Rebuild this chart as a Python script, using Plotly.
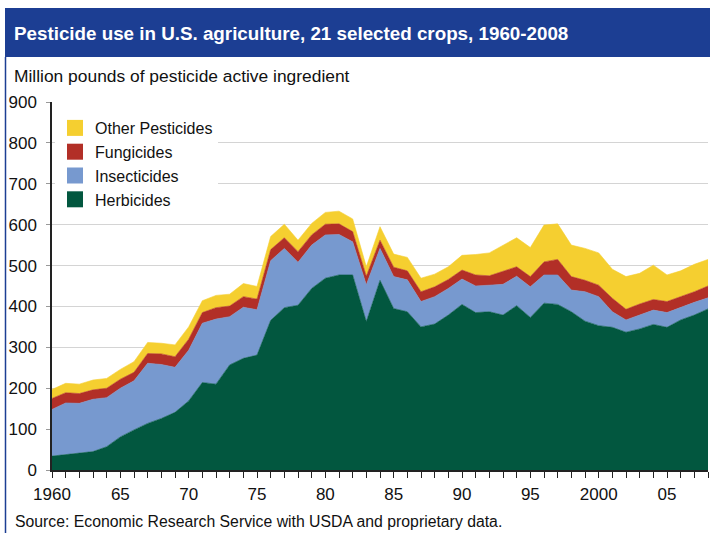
import plotly.graph_objects as go

# Pesticide use by class, million pounds of active ingredient
years = list(range(1960, 2009))
herbicides = [34, 38, 41, 45, 57, 81, 98, 114, 126, 141,
              169, 214, 210, 257, 273, 281, 366, 397, 403, 444,
              469, 477, 477, 363, 464, 395, 387, 350, 357, 379,
              405, 385, 387, 379, 402, 373, 408, 405, 387, 364,
              353, 349, 337, 345, 356, 349, 367, 379, 394]
insecticides = [114, 126, 122, 128, 120, 119, 120, 147, 132, 110,
                124, 145, 159, 118, 125, 111, 146, 145, 105, 106,
                106, 99, 81, 90, 78, 78, 78, 62, 67, 65,
                62, 65, 65, 75, 72, 75, 69, 72, 53, 72,
                71, 38, 30, 34, 35, 36, 31, 31, 27]
fungicides = [27, 25, 24, 23, 23, 22, 21, 24, 26, 26,
              27, 26, 28, 26, 26, 26, 27, 26, 26, 25,
              26, 26, 25, 21, 20, 23, 22, 24, 24, 22,
              22, 27, 23, 32, 23, 25, 32, 38, 33, 28,
              28, 33, 26, 27, 26, 27, 26, 26, 29]
other_pesticides = [22, 23, 23, 24, 24, 24, 26, 27, 26, 29,
                    30, 29, 30, 29, 32, 31, 32, 33, 28, 28,
                    29, 31, 31, 23, 33, 32, 33, 33, 31, 31,
                    36, 50, 56, 64, 71, 71, 90, 87, 77, 78,
                    79, 71, 80, 75, 84, 65, 63, 67, 65]

series_names = ["Herbicides", "Insecticides", "Fungicides", "Other Pesticides"]
series_values = [herbicides, insecticides, fungicides, other_pesticides]
series_colors = ["#02573f", "#7799cf", "#b22f27", "#f5cf30"]

xtick_years = list(range(1960, 2009))
xtick_text = {1960: "1960", 1965: "65", 1970: "70", 1975: "75", 1980: "80",
              1985: "85", 1990: "90", 1995: "95", 2000: "2000", 2005: "05"}

title_text = "Pesticide use in U.S. agriculture, 21 selected crops, 1960-2008"
unit_text = "Million pounds of pesticide active ingredient"
source_text = "Source: Economic Research Service with USDA and proprietary data."

FONT = "Liberation Sans, Arial, Helvetica, sans-serif"
W, H = 710, 533
ML, MR, MT, MB = 52, 2, 102, 63
PW, PH = W - ML - MR, H - MT - MB


def xp(px):
    return (px - ML) / PW


def yp(py):
    return (H - MB - py) / PH


fig = go.Figure()

# stacked areas
for name, vals, col in zip(series_names, series_values, series_colors):
    fig.add_trace(go.Scatter(
        x=years, y=vals, name=name, mode="lines",
        stackgroup="one", fillcolor=col,
        line=dict(width=0.6, color=col),
        showlegend=False, hoverinfo="x+y+name",
    ))

# square legend swatches
for name, col in zip(series_names, series_colors):
    fig.add_trace(go.Scatter(
        x=[None], y=[None], mode="markers", name=name,
        marker=dict(symbol="square", size=16, color=col),
        showlegend=True,
    ))

fig.update_layout(
    width=W, height=H,
    margin=dict(l=ML, r=MR, t=MT, b=MB),
    paper_bgcolor="white", plot_bgcolor="white",
    font=dict(family=FONT, size=17, color="#111"),
    showlegend=True,
    legend=dict(
        x=xp(55), y=yp(111), xanchor="left", yanchor="top",
        bgcolor="white", borderwidth=0,
        traceorder="reversed",
        font=dict(family=FONT, size=16, color="#111"),
        itemsizing="trace",
    ),
    xaxis=dict(
        range=[1960, 2008], showgrid=False, zeroline=False,
        tickmode="array", tickvals=xtick_years,
        ticktext=[xtick_text.get(y, "") for y in xtick_years],
        ticks="outside", ticklen=6, tickwidth=1, tickcolor="#222",
        showline=True, linecolor="#222", linewidth=1.5,
        tickfont=dict(family=FONT, size=17, color="#111"),
        ticklabelstandoff=2,
    ),
    yaxis=dict(
        range=[0, 900], dtick=100, showgrid=True, gridcolor="#d4d4d4",
        gridwidth=1, zeroline=False,
        ticks="outside", ticklen=4, tickcolor="#999",
        showline=True, linecolor="#222", linewidth=1.5,
        tickfont=dict(family=FONT, size=17, color="#111"),
        ticklabelstandoff=6,
    ),
    shapes=[
        # title banner
        dict(type="rect", xref="paper", yref="paper",
             x0=xp(5), x1=xp(711), y0=yp(57), y1=yp(8),
             fillcolor="#1c3e93", line=dict(width=0), layer="above"),
        # frame edge on the left
        dict(type="line", xref="paper", yref="paper",
             x0=xp(5.5), x1=xp(5.5), y0=yp(57), y1=yp(534),
             line=dict(color="#1c3e93", width=1.5)),
    ],
    annotations=[
        dict(text=title_text, xref="paper", yref="paper",
             x=xp(12), y=yp(33), xanchor="left", yanchor="middle",
             showarrow=False,
             font=dict(family=FONT, size=18.8, color="white", weight="bold")),
        dict(text=unit_text, xref="paper", yref="paper",
             x=xp(12), y=yp(76), xanchor="left", yanchor="middle",
             showarrow=False, font=dict(family=FONT, size=17.4, color="#111")),
        dict(text=source_text, xref="paper", yref="paper",
             x=xp(13), y=yp(521), xanchor="left", yanchor="middle",
             showarrow=False, font=dict(family=FONT, size=15.8, color="#111")),
    ],
)

fig.write_html("out.html")
